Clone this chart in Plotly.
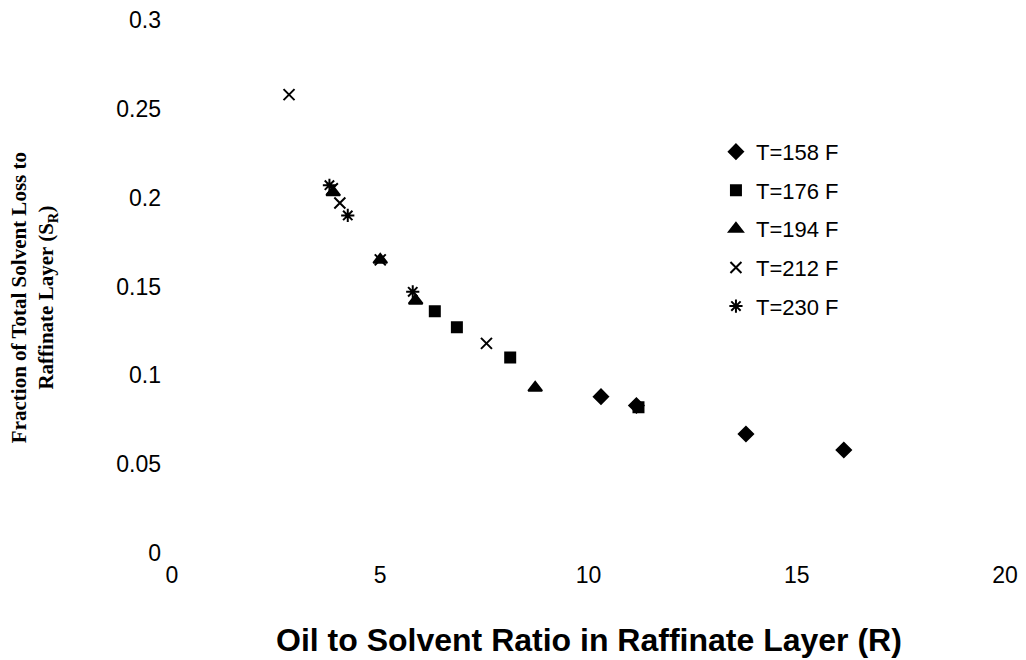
import plotly.graph_objects as go

# Data
r_158 = [10.3, 11.15, 13.78, 16.13]
s_158 = [0.088, 0.083, 0.067, 0.058]

r_176 = [6.31, 6.84, 8.12, 11.2]
s_176 = [0.136, 0.127, 0.110, 0.082]

r_194 = [3.87, 5.0, 5.85, 8.72]
s_194 = [0.203, 0.165, 0.142, 0.093]

r_212 = [2.81, 3.85, 4.03, 5.0, 7.55]
s_212 = [0.258, 0.205, 0.197, 0.165, 0.118]

r_230 = [3.78, 4.22, 5.78]
s_230 = [0.207, 0.190, 0.147]

x_ticks = [0, 5, 10, 15, 20]
y_ticks = [0, 0.05, 0.1, 0.15, 0.2, 0.25, 0.3]
y_tick_labels = ["0", "0.05", "0.1", "0.15", "0.2", "0.25", "0.3"]

series = [
    ("T=158 F", r_158, s_158, "diamond", 11),
    ("T=176 F", r_176, s_176, "square", 10),
    ("T=194 F", r_194, s_194, "triangle-up", 12),
    ("T=212 F", r_212, s_212, "x-thin-open", 11),
    ("T=230 F", r_230, s_230, "asterisk-open", 11),
]

fig = go.Figure()
for i, (name, xs, ys, sym, sz) in enumerate(series):
    fig.add_trace(go.Scatter(
        x=xs, y=ys, mode="markers", name=name, legendgroup=str(i),
        marker=dict(symbol=sym, size=sz, color="black",
                    line=dict(color="black", width=2)),
    ))

fig.update_layout(
    width=1018, height=652,
    paper_bgcolor="white", plot_bgcolor="white",
    margin=dict(l=164, r=21, t=12, b=107),
    font=dict(family="Arial, Liberation Sans, sans-serif", color="black"),
    showlegend=True,
    legend=dict(x=0.653, y=0.792, xanchor="left", yanchor="top",
                font=dict(size=22, family="Arial, Liberation Sans, sans-serif"),
                traceorder="grouped", tracegroupgap=7,
                bgcolor="rgba(0,0,0,0)"),
    xaxis=dict(range=[0, 20], tickmode="array", tickvals=x_ticks,
               showgrid=False, zeroline=False,
               showline=False, ticks="", tickfont=dict(size=23),
               automargin=False, ticklabelstandoff=6,
               ticklabeloverflow="allow"),
    yaxis=dict(range=[0, 0.3], tickmode="array", tickvals=y_ticks,
               ticktext=y_tick_labels,
               showgrid=False, zeroline=False,
               showline=False, ticks="", tickfont=dict(size=23),
               automargin=False, ticklabelstandoff=10,
               ticklabeloverflow="allow"),
    annotations=[
        dict(text="<b>Oil to Solvent Ratio in Raffinate Layer (R)</b>",
             x=0.5, y=-0.163, xref="paper", yref="paper",
             xanchor="center", yanchor="middle", showarrow=False,
             font=dict(size=32, family="Arial, Liberation Sans, sans-serif")),
        dict(text="<b>Fraction of Total Solvent Loss to<br>Raffinate Layer (S<sub>R</sub>)</b>",
             x=-0.1657, y=0.48, xref="paper", yref="paper", textangle=-90,
             xanchor="center", yanchor="middle", showarrow=False,
             font=dict(size=21, family="Liberation Serif, Times New Roman, serif")),
    ],
)

fig.write_html("out.html")
